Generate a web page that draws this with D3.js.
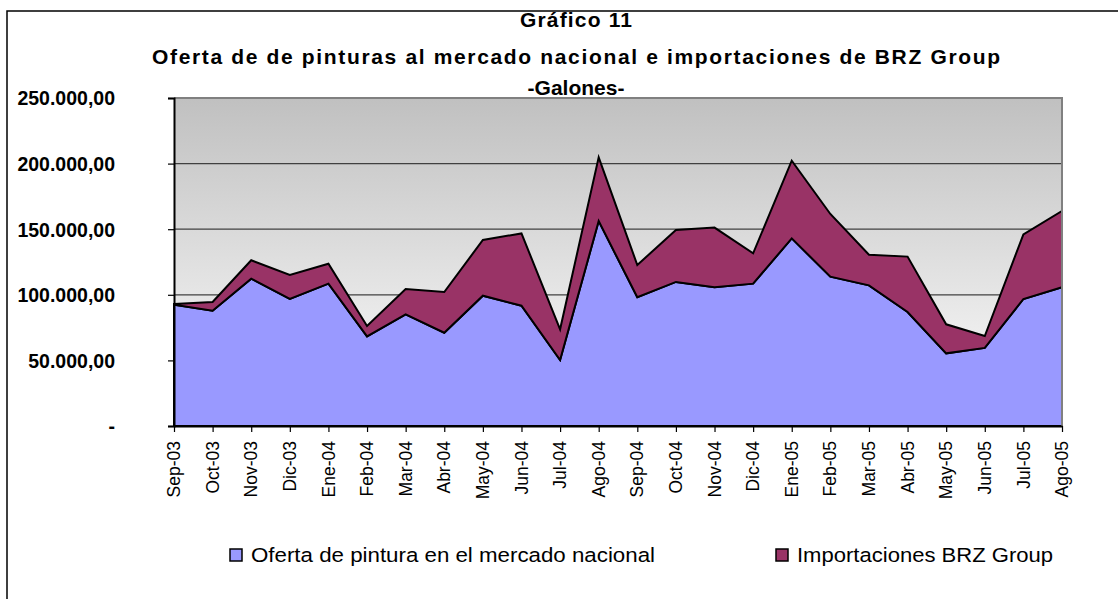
<!DOCTYPE html>
<html><head><meta charset="utf-8">
<script src="https://cdn.jsdelivr.net/npm/d3@7"></script>
<style>body{margin:0;background:#fff}svg{display:block}text{font-family:Arial,"Liberation Sans",sans-serif}</style>
</head><body><svg id="c" width="1118" height="599"></svg>
<script>
const categories = ["Sep-03","Oct-03","Nov-03","Dic-03","Ene-04","Feb-04","Mar-04","Abr-04","May-04","Jun-04","Jul-04","Ago-04","Sep-04","Oct-04","Nov-04","Dic-04","Ene-05","Feb-05","Mar-05","Abr-05","May-05","Jun-05","Jul-05","Ago-05"];
const oferta = [92500,87900,112300,96800,108500,68300,85100,71100,99300,91700,50300,156200,98100,109800,105700,108500,143000,113800,107200,86900,55400,59500,96800,105700];
const importaciones = [500,6600,14000,18300,15200,7900,19300,31000,42500,55100,23400,48600,24600,39600,45500,23100,59200,47800,23400,42200,22100,9100,49300,58200];
const seriesNames = ["Oferta de pintura en el mercado nacional","Importaciones BRZ Group"];
const yTicks = [0,50000,100000,150000,200000,250000];
const titleLines = ["Gráfico 11","Oferta de de pinturas al mercado nacional e importaciones de BRZ Group","-Galones-"];
const colors = ["#9999FF","#993366"];

const svg = d3.select("#c");
const L=174, R=1062, T=98, B=426;
const x = d3.scalePoint().domain(categories).range([L,R]);
const y = d3.scaleLinear().domain([0,250000]).range([B,T]);

// frame
svg.append("rect").attr("x",7).attr("y",11).attr("width",1200).attr("height",700)
  .attr("fill","none").attr("stroke","#000").attr("stroke-width",1.5);

// background gradient
const defs = svg.append("defs");
const g = defs.append("linearGradient").attr("id","bg").attr("x1",0).attr("y1",0).attr("x2",0).attr("y2",1);
g.append("stop").attr("offset","0%").attr("stop-color","#c0c0c0");
g.append("stop").attr("offset","100%").attr("stop-color","#ffffff");
svg.append("rect").attr("x",L).attr("y",T).attr("width",R-L).attr("height",B-T).attr("fill","url(#bg)");

// gridlines
svg.append("g").selectAll("line").data(yTicks.filter(d=>d>0&&d<250000)).join("line")
  .attr("x1",L).attr("x2",R).attr("y1",d=>y(d)).attr("y2",d=>y(d))
  .attr("stroke","#404040").attr("stroke-width",1.2);

// stacked areas
const rows = categories.map((c,i)=>({c, a:oferta[i], b:importaciones[i]}));
const stack = d3.stack().keys(["a","b"])(rows);
const area = d3.area().x(d=>x(d.data.c)).y0(d=>y(d[0])).y1(d=>y(d[1]));
svg.append("g").selectAll("path").data(stack).join("path")
  .attr("d",area).attr("fill",(d,i)=>colors[i]).attr("stroke","#000").attr("stroke-width",2).attr("stroke-linejoin","miter");

// plot border top/right
svg.append("path").attr("d",`M${L},${T}H${R}V${B}`).attr("fill","none").attr("stroke","#808080").attr("stroke-width",2);

// y axis
const fmt = v => v===0 ? "-" : d3.format(",.2f")(v).replace(/,/g,"X").replace(/\./g,",").replace(/X/g,".");
const ya = svg.append("g").attr("transform",`translate(${L},0)`)
  .call(d3.axisLeft(y).tickValues(yTicks).tickSize(6).tickPadding(53).tickFormat(fmt));
ya.select(".domain").attr("stroke","#000").attr("stroke-width",2);
ya.selectAll(".tick line").attr("stroke","#000").attr("stroke-width",1.2);
ya.selectAll(".tick text").attr("font-size",19.5).attr("font-weight","bold").attr("fill","#000")
  .attr("font-family","Arial, 'Liberation Sans', sans-serif").attr("dy","0.35em");

// x axis
const xa = svg.append("g").attr("transform",`translate(0,${B})`)
  .call(d3.axisBottom(x).tickSize(6).tickSizeOuter(0));
xa.select(".domain").attr("stroke","#000").attr("stroke-width",2);
xa.selectAll(".tick line").attr("stroke","#000").attr("stroke-width",1.2);
xa.selectAll(".tick text").attr("font-size",17.5).attr("fill","#000")
  .attr("font-family","Arial, 'Liberation Sans', sans-serif")
  .attr("text-anchor","end").attr("transform","translate(0,15) rotate(-90)")
  .attr("x",0).attr("y",0).attr("dy","0.32em");

// titles
const tY=[27,64,95];
const tW=[112,848,null];
svg.append("g").selectAll("text").data(titleLines).join("text")
  .attr("x",576).attr("y",(d,i)=>tY[i]).attr("text-anchor","middle")
  .attr("font-size",21).attr("font-weight","bold").attr("fill","#000").text(d=>d)
  .each(function(d,i){ if(tW[i]){ this.setAttribute("textLength",tW[i]); this.setAttribute("lengthAdjust","spacing"); } });

// legend
const leg = [{x:230,tx:251,w:404},{x:776,tx:797,w:256}];
const lg = svg.append("g");
seriesNames.forEach((n,i)=>{
  lg.append("rect").attr("x",leg[i].x).attr("y",549).attr("width",12).attr("height",12)
    .attr("fill",colors[i]).attr("stroke","#000").attr("stroke-width",1.5);
  lg.append("text").attr("x",leg[i].tx).attr("y",562).attr("font-size",20.5).attr("fill","#000")
    .attr("textLength",leg[i].w).attr("lengthAdjust","spacingAndGlyphs").text(n);
});
</script></body></html>
